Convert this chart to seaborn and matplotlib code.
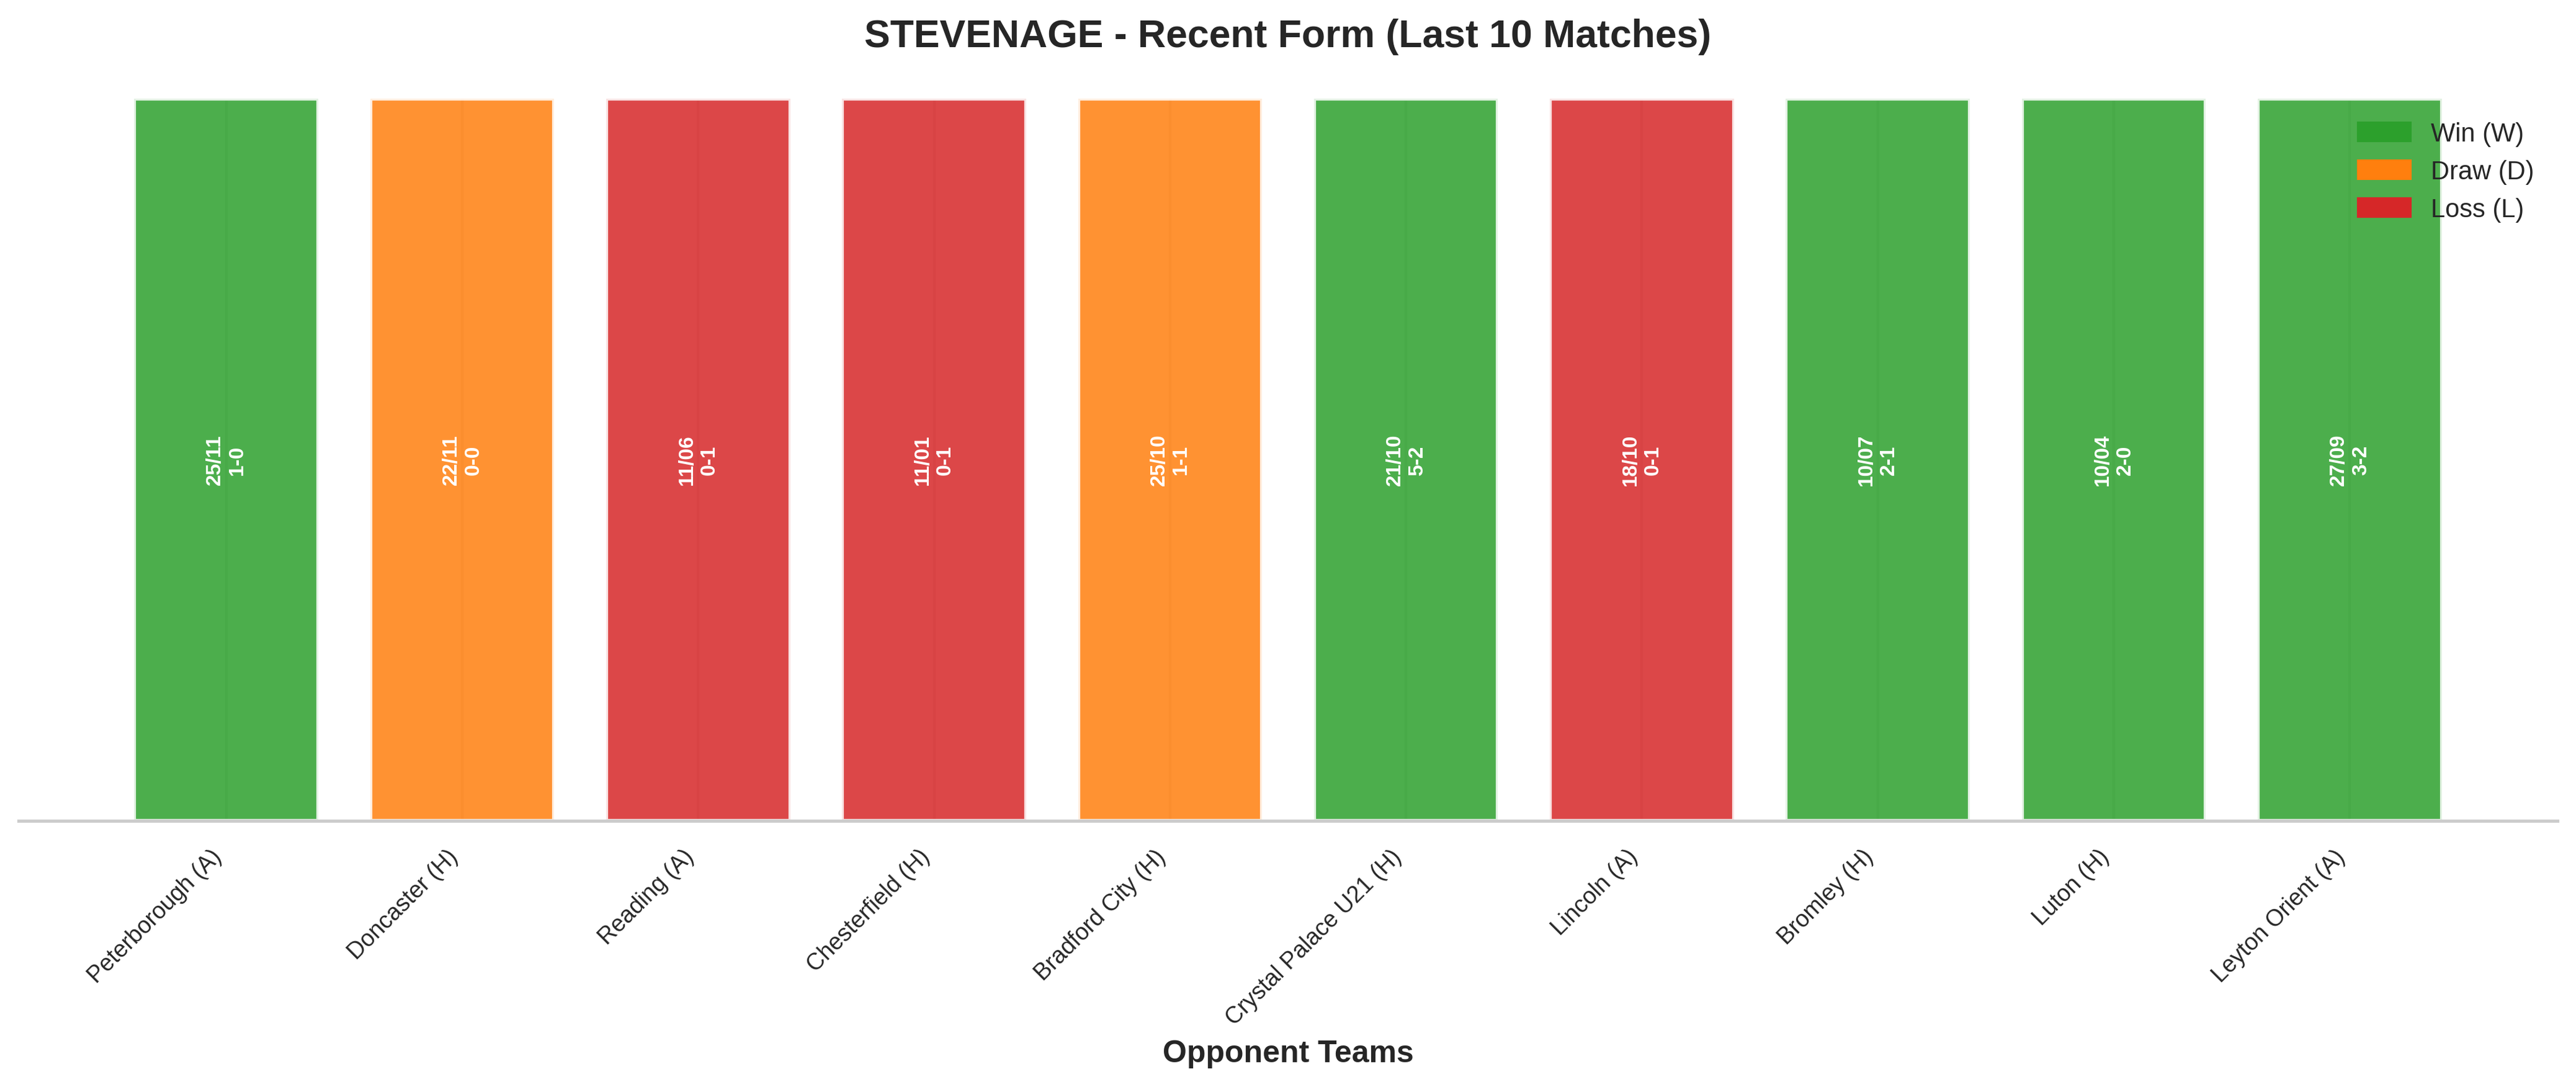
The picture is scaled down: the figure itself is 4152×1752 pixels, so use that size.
import matplotlib.pyplot as plt
import matplotlib.patches as mpatches
import numpy as np
import pandas as pd
import seaborn as sns

sns.set_theme(style="whitegrid")
plt.rcParams['font.family'] = ['Arial', 'Liberation Sans', 'DejaVu Sans']

opponents = ['Peterborough (A)', 'Doncaster (H)', 'Reading (A)', 'Chesterfield (H)',
             'Bradford City (H)', 'Crystal Palace U21 (H)', 'Lincoln (A)', 'Bromley (H)',
             'Luton (H)', 'Leyton Orient (A)']
dates = ['25/11', '22/11', '11/06', '11/01', '25/10', '21/10', '18/10', '10/07', '10/04', '27/09']
scores = ['1-0', '0-0', '0-1', '0-1', '1-1', '5-2', '0-1', '2-1', '2-0', '3-2']
results = ['W', 'D', 'L', 'L', 'D', 'W', 'L', 'W', 'W', 'W']

colors = {'W': '#2ca02c', 'D': '#ff7f0e', 'L': '#d62728'}
labels = {'W': 'Win (W)', 'D': 'Draw (D)', 'L': 'Loss (L)'}

df = pd.DataFrame({'opponent': opponents, 'result': results, 'value': 1})

fig, ax = plt.subplots(figsize=(14, 6))
sns.barplot(data=df, x='opponent', y='value', hue='opponent',
            palette=[colors[r] for r in results], width=0.78, alpha=0.85,
            saturation=1, edgecolor='white', linewidth=1.5, legend=False, ax=ax)

for i, (d, s) in enumerate(zip(dates, scores)):
    ax.text(i, 0.5, f"{d}\n{s}", ha='center', va='center', rotation=90,
            color='white', fontsize=8, fontweight='bold')

ax.set_xlim(-0.88, 9.88)
ax.set_ylim(0, 1.0)
ax.set_yticks([])
ax.set_ylabel('')
ax.grid(axis='y', visible=False)
ax.grid(axis='x', color='#cccccc', alpha=0.5)
ax.set_xlabel('Opponent Teams', fontsize=12, fontweight='bold')
ax.set_title('STEVENAGE - Recent Form (Last 10 Matches)', fontsize=15, fontweight='bold', pad=20)
plt.setp(ax.get_xticklabels(), rotation=45, ha='right', fontsize=9)
for side in ['top', 'right', 'left']:
    ax.spines[side].set_visible(False)
ax.spines['bottom'].set_color('#cccccc')

handles = [mpatches.Patch(color=colors[k], label=labels[k]) for k in ['W', 'D', 'L']]
ax.legend(handles=handles, loc='upper right', frameon=False, fontsize=10)

plt.tight_layout()
plt.savefig('out.png', dpi=300, bbox_inches='tight')
